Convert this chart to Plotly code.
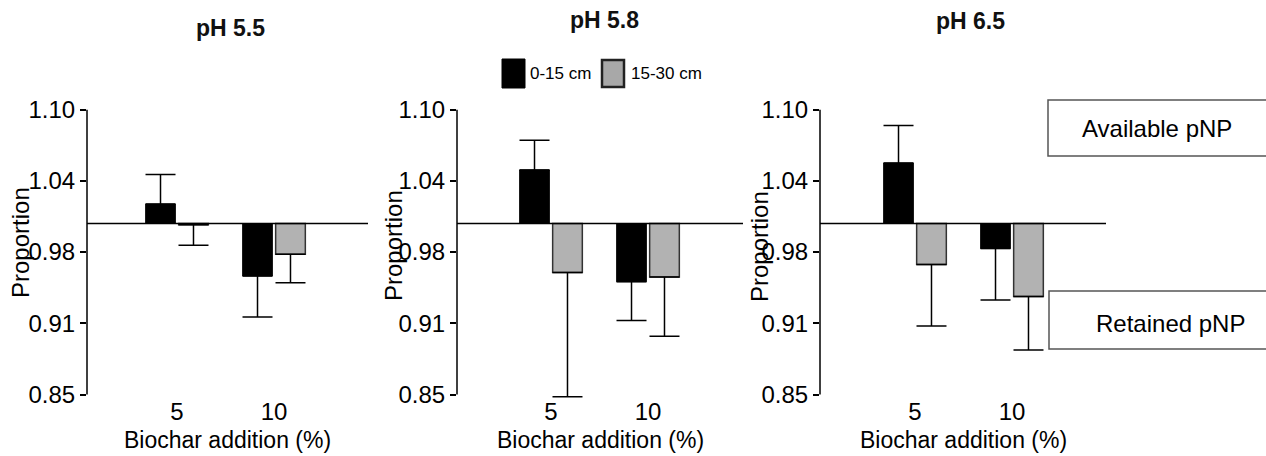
import plotly.graph_objects as go

W, H = 1266, 456

# ---------------- data ----------------
categories = ["5", "10"]
series_names = ["0-15 cm", "15-30 cm"]
panel_titles = ["pH 5.5", "pH 5.8", "pH 6.5"]

# bar means (proportion relative to control = 1.0)
ph55_top = [1.017, 0.954]
ph55_sub = [0.999, 0.973]
ph58_top = [1.047, 0.949]
ph58_sub = [0.957, 0.953]
ph65_top = [1.053, 0.978]
ph65_sub = [0.964, 0.936]

# error bar sizes
ph55_top_err = [0.026, 0.036]
ph55_sub_err = [0.018, 0.025]
ph58_top_err = [0.026, 0.034]
ph58_sub_err = [0.109, 0.052]
ph65_top_err = [0.033, 0.045]
ph65_sub_err = [0.054, 0.047]

baseline = 1.0
y_tickvals = [0.85, 0.9125, 0.975, 1.0375, 1.10]
y_ticktext = ["0.85", "0.91", "0.98", "1.04", "1.10"]
y_axis_min, y_axis_max = 0.85, 1.10   # extent of the drawn axis line
y_view_min = 0.84                      # a little room below so whisker caps show
y_title = "Proportion"
x_title = "Biochar addition (%)"
box_labels = ["Available pNP", "Retained pNP"]

# ---------------- styling ----------------
FONT = "Arial, Liberation Sans, Helvetica, sans-serif"
BLACK = "#000000"
GRAY = "#b2b2b2"


def px(x):
    return x / W


def py(y):
    return 1 - y / H


panels = [
    dict(top=ph55_top, sub=ph55_sub, top_err=ph55_top_err, sub_err=ph55_sub_err,
         x0=87, x1=368, c0=90),
    dict(top=ph58_top, sub=ph58_sub, top_err=ph58_top_err, sub_err=ph58_sub_err,
         x0=457, x1=743, c0=94),
    dict(top=ph65_top, sub=ph65_sub, top_err=ph65_top_err, sub_err=ph65_sub_err,
         x0=820, x1=1106, c0=95),
]
cat_step_px = 97.0
y_top_px, y_bot_px = 109.5, 394.5          # pixel rows of 1.10 and 0.85
px_per_unit = (y_bot_px - y_top_px) / (y_axis_max - y_axis_min)
y_dom_bot_px = y_bot_px + (y_axis_min - y_view_min) * px_per_unit


def err_dirs(vals, errs):
    up = [e if v >= baseline else 0 for v, e in zip(vals, errs)]
    down = [e if v < baseline else 0 for v, e in zip(vals, errs)]
    return up, down


fig = go.Figure()
layout = dict()
shapes = []
annotations = []

for i, p in enumerate(panels):
    n = "" if i == 0 else str(i + 1)
    xa, ya = "x" + n, "y" + n
    for name, vals, errs, fill, lc, lw in [
        (series_names[0], p["top"], p["top_err"], BLACK, BLACK, 1),
        (series_names[1], p["sub"], p["sub_err"], GRAY, "#333333", 1.5),
    ]:
        up, down = err_dirs(vals, errs)
        fig.add_trace(go.Bar(
            x=categories,
            y=[v - baseline for v in vals],
            base=[baseline] * len(vals),
            name=name,
            marker=dict(color=fill, line=dict(color=lc, width=lw)),
            error_y=dict(type="data", symmetric=False, array=up, arrayminus=down,
                         color=BLACK, thickness=1.5, width=15),
            xaxis=xa, yaxis=ya, showlegend=False,
        ))
    width_px = p["x1"] - p["x0"]
    rng = [-p["c0"] / cat_step_px, (width_px - p["c0"]) / cat_step_px]
    layout["xaxis" + n] = dict(
        domain=[px(p["x0"]), px(p["x1"])], anchor="free", position=py(y_bot_px),
        overlaying=None, type="category",
        range=rng, showline=False, ticks="", showgrid=False, zeroline=False,
        automargin=False,
        tickfont=dict(size=24, color=BLACK, family=FONT),
    )
    layout["yaxis" + n] = dict(
        domain=[py(y_dom_bot_px), py(y_top_px)], anchor=xa,
        range=[y_view_min, y_axis_max],
        tickvals=y_tickvals, ticktext=y_ticktext,
        showline=False,
        ticks="outside", ticklen=6, tickwidth=1.5, tickcolor=BLACK,
        showgrid=False, zeroline=False, automargin=False,
        tickfont=dict(size=24, color=BLACK, family=FONT),
    )
    # y axis line from 0.85 to 1.10
    shapes.append(dict(type="line", xref=xa + " domain", yref=ya,
                       x0=0, x1=0, y0=y_axis_min, y1=y_axis_max,
                       line=dict(color=BLACK, width=1.5), layer="above"))
    # reference line at 1.0
    shapes.append(dict(type="line", xref=xa + " domain", yref=ya,
                       x0=0, x1=1, y0=baseline, y1=baseline,
                       line=dict(color=BLACK, width=1.5), layer="above"))
    # axis titles
    annotations.append(dict(text=x_title, xref="paper", yref="paper",
                            x=px((p["x0"] + p["x1"]) / 2), y=py(440),
                            xanchor="center", yanchor="middle", showarrow=False,
                            font=dict(size=23, color=BLACK, family=FONT)))

y_title_pos = [(20, 243), (393, 246), (760, 247)]
for (xx, yy) in y_title_pos:
    annotations.append(dict(text=y_title, xref="paper", yref="paper",
                            x=px(xx), y=py(yy), textangle=-90,
                            xanchor="center", yanchor="middle", showarrow=False,
                            font=dict(size=24, color=BLACK, family=FONT)))

title_pos = [(230, 28), (604, 20), (970, 21)]
for t, (xx, yy) in zip(panel_titles, title_pos):
    annotations.append(dict(text="<b>" + t + "</b>", xref="paper", yref="paper",
                            x=px(xx), y=py(yy), xanchor="center", yanchor="middle",
                            showarrow=False,
                            font=dict(size=23, color="#111111", family=FONT)))

# legend (custom swatches)
shapes.append(dict(type="rect", xref="paper", yref="paper",
                   x0=px(502), x1=px(525), y0=py(88), y1=py(59),
                   fillcolor=BLACK, line=dict(color=BLACK, width=1)))
shapes.append(dict(type="rect", xref="paper", yref="paper",
                   x0=px(602), x1=px(624), y0=py(87), y1=py(60),
                   fillcolor="#a8a8a8", line=dict(color="#222222", width=2.5)))
annotations.append(dict(text=series_names[0], xref="paper", yref="paper",
                        x=px(528), y=py(74), xanchor="left", yanchor="middle",
                        showarrow=False, font=dict(size=17, color=BLACK, family=FONT)))
annotations.append(dict(text=series_names[1], xref="paper", yref="paper",
                        x=px(629), y=py(74), xanchor="left", yanchor="middle",
                        showarrow=False, font=dict(size=17, color=BLACK, family=FONT)))

# side boxes
box_geo = [(1048, 100, 1290, 156, 1157, 128), (1049, 291, 1290, 349, 1170, 323)]
for lab, (bx0, by0, bx1, by1, tx, ty) in zip(box_labels, box_geo):
    shapes.append(dict(type="rect", xref="paper", yref="paper",
                       x0=px(bx0), x1=px(bx1), y0=py(by1), y1=py(by0),
                       fillcolor="white", line=dict(color="#555555", width=1.5)))
    annotations.append(dict(text=lab, xref="paper", yref="paper",
                            x=px(tx), y=py(ty), xanchor="center", yanchor="middle",
                            showarrow=False, font=dict(size=24, color=BLACK, family=FONT)))

for k in list(layout.keys()):
    if k.startswith("xaxis"):
        layout[k].pop("overlaying", None)

fig.update_layout(
    template="none",
    width=W, height=H, autosize=False,
    margin=dict(l=0, r=0, t=0, b=0, pad=0, autoexpand=False),
    paper_bgcolor="white", plot_bgcolor="white",
    barmode="group", bargap=0.32, bargroupgap=0.1,
    showlegend=False,
    shapes=shapes, annotations=annotations,
    font=dict(family=FONT, color=BLACK),
    **layout,
)

fig.write_html("out.html", config={"displayModeBar": False})
with open("out.html", "r", encoding="utf-8") as f:
    html = f.read()
html = html.replace("<body>", '<body style="margin:0;padding:0;overflow:hidden">', 1)
html = html.replace("<head>", '<head><style>html,body{margin:0;padding:0;overflow:hidden}</style>', 1)
with open("out.html", "w", encoding="utf-8") as f:
    f.write(html)
